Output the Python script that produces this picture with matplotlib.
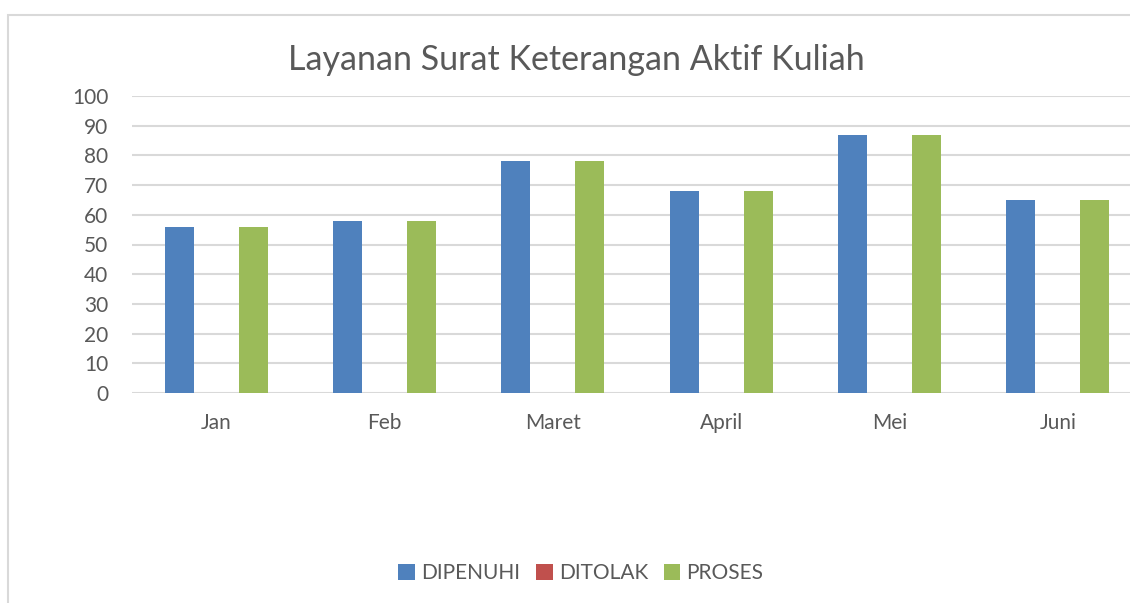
import numpy as np
import matplotlib.pyplot as plt
from matplotlib.patches import Rectangle

plt.rcParams['font.family'] = ['Lato', 'DejaVu Sans']

# data
months = ['Jan', 'Feb', 'Maret', 'April', 'Mei', 'Juni']
dipenuhi = [56, 58, 78, 68, 87, 65]
ditolak = [0, 0, 0, 0, 0, 0]
proses = [56, 58, 78, 68, 87, 65]

series = ['DIPENUHI', 'DITOLAK', 'PROSES']
colors = ['#4F81BD', '#C0504D', '#9BBB59']
text_color = '#595959'
grid_color = '#D9D9D9'

W, H = 1130, 603
fig = plt.figure(figsize=(W / 100, H / 100), dpi=100)

# chart border (cropped on the right and bottom)
fig.patches.append(Rectangle((8 / W, -0.05), 1.2, 1 - 15 / H + 0.05,
                             transform=fig.transFigure, fill=False,
                             edgecolor=grid_color, linewidth=1.5))

ax = fig.add_axes([132 / W, 1 - 393 / H, 1010 / W, 297 / H])
x = np.arange(len(months))
bw = 0.172
offs = [-0.22, 0, 0.22]
for vals, off, c, name in zip([dipenuhi, ditolak, proses], offs, colors, series):
    ax.bar(x + off, vals, bw, color=c, label=name, zorder=3)

ax.set_xlim(-0.5, len(months) - 0.5)
ax.set_ylim(0, 100)
ax.set_yticks(range(0, 101, 10))
ax.set_xticks(x)
ax.set_xticklabels(months)
ax.grid(axis='y', color=grid_color, linewidth=1.5, zorder=0)
for s in ax.spines.values():
    s.set_visible(False)
ax.tick_params(length=0, labelsize=15, colors=text_color)
ax.tick_params(axis='x', pad=14.5)
ax.tick_params(axis='y', pad=17)

fig.text(576 / W, 1 - 60 / H, 'Layanan Surat Keterangan Aktif Kuliah',
         ha='center', va='center', fontsize=24.5, color=text_color)

leg = fig.legend(loc='center', bbox_to_anchor=(581 / W, 1 - 573 / H), ncol=3,
                 frameon=False, fontsize=15, handlelength=0.8, handleheight=0.8,
                 handletextpad=0.3, columnspacing=0.75)
for t in leg.get_texts():
    t.set_color(text_color)

fig.savefig('out.png', dpi=100)
